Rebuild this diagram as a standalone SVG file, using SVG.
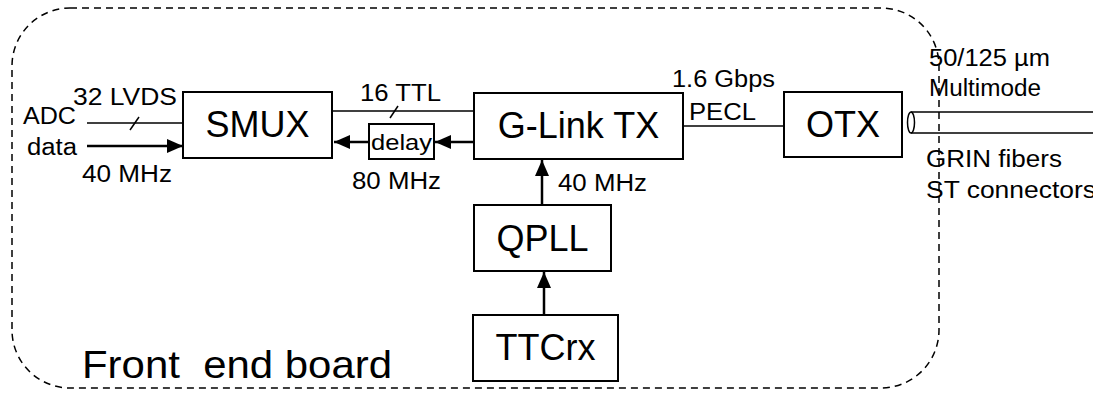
<svg xmlns="http://www.w3.org/2000/svg" width="1093" height="397" viewBox="0 0 1093 397">
<style>
text{font-family:"Liberation Sans",Arial,sans-serif;fill:#000}
.big{font-size:36px}
.sm{font-size:23px}
.box{fill:#fff;stroke:#000;stroke-width:2}
.thin{stroke:#000;stroke-width:1.5;fill:none}
.thick{stroke:#000;stroke-width:2.5;fill:none}
</style>
<defs>
<marker id="ah" markerUnits="userSpaceOnUse" markerWidth="16" markerHeight="14" refX="16" refY="7" orient="auto">
<path d="M0,0 L16,7 L0,14 z" fill="#000"/>
</marker>
</defs>
<rect id="board" x="12" y="8" width="927" height="380" rx="58" ry="58" fill="none" stroke="#000" stroke-width="1.5" stroke-dasharray="7,5"/>
<g id="connectors">
<line class="thin" x1="87" y1="123" x2="183" y2="123"/>
<line class="thin" x1="130" y1="130" x2="139" y2="117"/>
<line class="thick" x1="87" y1="146" x2="183" y2="146" marker-end="url(#ah)"/>
<line class="thin" x1="333" y1="111" x2="474" y2="111"/>
<line class="thin" x1="390" y1="118" x2="398" y2="106"/>
<line class="thick" x1="369" y1="142" x2="334" y2="142" marker-end="url(#ah)"/>
<line class="thick" x1="474" y1="142" x2="435" y2="142" marker-end="url(#ah)"/>
<line class="thick" x1="542" y1="205" x2="542" y2="160" marker-end="url(#ah)"/>
<line class="thick" x1="544" y1="315" x2="544" y2="272" marker-end="url(#ah)"/>
<line class="thin" x1="683" y1="126" x2="784" y2="126"/>
<line class="thin" x1="911" y1="112" x2="1093" y2="112"/>
<line class="thin" x1="911" y1="133" x2="1093" y2="133"/>
<ellipse cx="911" cy="122.5" rx="3.5" ry="10.5" class="thin"/>
</g>
<g id="smux"><rect class="box" x="183" y="92" width="149" height="66"/><text class="big" x="257.5" y="137" text-anchor="middle">SMUX</text></g>
<g id="delay"><rect class="box" x="369" y="124" width="65" height="35" stroke-width="1.5"/><text x="371" y="150" font-size="22" textLength="61" lengthAdjust="spacingAndGlyphs">delay</text></g>
<g id="glink"><rect class="box" x="474" y="93" width="209" height="66"/><text class="big" x="578.5" y="138" text-anchor="middle">G-Link TX</text></g>
<g id="otx"><rect class="box" x="784" y="92" width="118" height="65"/><text class="big" x="843" y="137" text-anchor="middle">OTX</text></g>
<g id="qpll"><rect class="box" x="474" y="205" width="137" height="66"/><text class="big" x="542.5" y="251" text-anchor="middle">QPLL</text></g>
<g id="ttcrx"><rect class="box" x="473" y="315" width="145" height="66"/><text class="big" x="545.5" y="360" text-anchor="middle">TTCrx</text></g>
<g id="labels">
<text class="sm" x="23" y="124" textLength="53" lengthAdjust="spacingAndGlyphs">ADC</text>
<text class="sm" x="27" y="155" textLength="50" lengthAdjust="spacingAndGlyphs">data</text>
<text class="sm" x="73" y="105" textLength="104" lengthAdjust="spacingAndGlyphs">32 LVDS</text>
<text class="sm" x="82" y="182" textLength="90" lengthAdjust="spacingAndGlyphs">40 MHz</text>
<text class="sm" x="360" y="101" textLength="81" lengthAdjust="spacingAndGlyphs">16 TTL</text>
<text class="sm" x="352" y="189" textLength="89" lengthAdjust="spacingAndGlyphs">80 MHz</text>
<text class="sm" x="558" y="191" textLength="89" lengthAdjust="spacingAndGlyphs">40 MHz</text>
<text class="sm" x="672" y="87" textLength="103" lengthAdjust="spacingAndGlyphs">1.6 Gbps</text>
<text class="sm" x="689" y="120" textLength="67" lengthAdjust="spacingAndGlyphs">PECL</text>
<text class="sm" x="929" y="66" textLength="121" lengthAdjust="spacingAndGlyphs">50/125 µm</text>
<text class="sm" x="929" y="96" textLength="112" lengthAdjust="spacingAndGlyphs">Multimode</text>
<text class="sm" x="926" y="167" textLength="136" lengthAdjust="spacingAndGlyphs">GRIN fibers</text>
<text class="sm" x="926" y="198" textLength="170" lengthAdjust="spacingAndGlyphs">ST connectors</text>
<text x="82" y="378" font-size="39" textLength="310" lengthAdjust="spacingAndGlyphs" xml:space="preserve">Front  end board</text>
</g>
</svg>
